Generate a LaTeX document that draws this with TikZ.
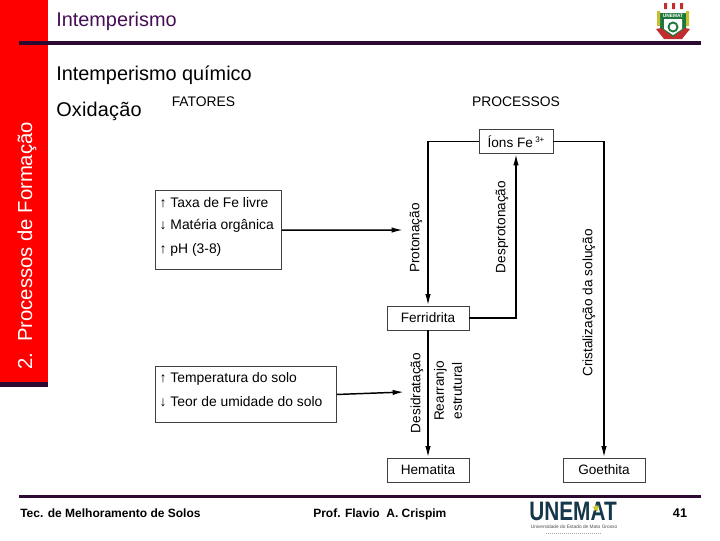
\documentclass[tikz,border=0pt]{standalone}
\usepackage{fontspec}
\setmainfont{Liberation Sans}
\usetikzlibrary{arrows.meta,positioning,shapes.geometric}
\definecolor{barcolor}{RGB}{255,0,0}
\definecolor{rulecolor}{RGB}{45,10,50}
\definecolor{titlecolor}{RGB}{70,15,85}
\definecolor{logocolor}{RGB}{20,55,75}
\definecolor{crestgreen}{RGB}{30,120,60}
\definecolor{crestred}{RGB}{195,45,45}
\tikzset{
  flowln/.style={-{Latex[length=8.5pt,width=4pt]}, line width=1.1pt, black},
  procbox/.style={draw=black!75, line width=0.7pt, minimum width=61.5pt, minimum height=18pt, inner sep=0pt, font=\fontsize{10.2}{12}\selectfont},
  factbox/.style={draw=black!75, line width=0.7pt, anchor=north west, inner sep=0pt},
  sidelbl/.style={rotate=90, font=\fontsize{10.2}{12}\selectfont},
  titlelbl/.style={anchor=west, inner sep=0pt, font=\fontsize{14.9}{18}\selectfont},
  footlbl/.style={anchor=base west, inner sep=0pt, font=\bfseries\fontsize{9}{11}\selectfont},
  headlbl/.style={font=\fontsize{10.4}{12}\selectfont},
}
\begin{document}
\begin{tikzpicture}[x=0.75pt,y=-0.75pt]
  \useasboundingbox (0,0) rectangle (720,540);
  \fill[white] (0,0) rectangle (720,540);
  % side bar and rules
  \fill[barcolor] (0,0) rectangle (48,382);
  \fill[rulecolor] (0,382) rectangle (48,387);
  \fill[rulecolor] (19,41) rectangle (701,45);
  \fill[rulecolor] (19,495) rectangle (701,498);
  \node[white, rotate=90, font=\fontsize{15.2}{18}\selectfont] (sidebar) at (27,246) {2.\ \ Processos de Formação};
  % titles
  \node[titlelbl, titlecolor] (title) at (56,21) {Intemperismo};
  \node[titlelbl] (subtitle) at (56,75) {Intemperismo químico};
  \node[titlelbl] (oxidacao) at (56,111) {\addfontfeature{LetterSpace=1}Oxidação};
  \node[headlbl] (fatores) at (203.5,102) {FATORES};
  \node[headlbl] (processos) at (516,102) {PROCESSOS};
  % factors
  \node[factbox, minimum width=94.5pt, minimum height=59.5pt] (taxa) at (155,190) {};
  \node[factbox, minimum width=135.5pt, minimum height=42pt] (temp) at (155,366) {};
  \node[headlbl, anchor=west] (taxa1) at (155,203) {↑ Taxa de Fe livre};
  \node[headlbl, anchor=west] (taxa2) at (155,226) {↓ Matéria orgânica};
  \node[headlbl, anchor=west] (taxa3) at (155,250) {↑ pH (3-8)};
  \node[headlbl, anchor=west] (temp1) at (155,379) {↑ Temperatura do solo};
  \node[headlbl, anchor=west] (temp2) at (155,402) {↓ Teor de umidade do solo};
  % processes
  \node[procbox, minimum width=55.5pt] (ions) at (516,141.5) {Íons Fe\,\raisebox{3.5pt}{\fontsize{6}{7}\selectfont 3+}};
  \node[procbox] (ferridrita) at (428,318) {Ferridrita};
  \node[procbox] (hematita) at (428,470) {Hematita};
  \node[procbox] (goethita) at (604,470) {Goethita};
  \coordinate (taxaend) at (403,230);
  \coordinate (tempend) at (404,392);
  \draw[flowln] (taxa.east) -- (taxaend);
  \draw[flowln] (temp.east) -- (tempend);
  \draw[flowln] (ions.west) -| (ferridrita.north);
  \draw[flowln] (ferridrita.east) -| (ions.south);
  \draw[flowln] (ions.east) -| (goethita.north);
  \draw[flowln] (ferridrita.south) -- (hematita.north);
  \node[sidelbl] (proton) at (416,238) {Protonação};
  \node[sidelbl] (desproton) at (502,227) {Desprotonação};
  \node[sidelbl] (cristal) at (589,303) {Cristalização da solução};
  \node[sidelbl] (desidra) at (417,393) {Desidratação};
  \node[sidelbl, align=center, font=\fontsize{10.2}{13.5}\selectfont] (rearranjo) at (448,391) {Rearranjo\\estrutural};
  % footer
  \node[footlbl] (curso) at (20,517.5) {Tec. de Melhoramento de Solos};
  \node[footlbl] (prof) at (313,517.5) {Prof. Flavio\ \ A. Crispim};
  \node[footlbl, anchor=base, font=\bfseries\fontsize{9.5}{11}\selectfont] (pagina) at (680,517.5) {41};
  % logo
  \node[logocolor, font=\bfseries\fontsize{20}{21}\selectfont, inner sep=0pt, transform shape, xscale=0.78] (unemat) at (573,511.5) {UNEMAT};
  \node[star, star points=5, star point ratio=2.4, fill=yellow!80!black, inner sep=0pt, minimum size=6pt] (logostar) at (596,508) {};
  \node[black!70, font=\fontsize{3.6}{4}\selectfont, inner sep=0pt] (uni) at (574,527) {Universidade do Estado de Mato Grosso};
  \draw[black!35, line width=0.5pt, densely dotted] (546,533) -- (601,533);
  % crest
  \fill[crestgreen] (660,13) -- (686,13) -- (686,30) -- (673,38) -- (660,30) -- cycle;
  \fill[white] (664,19) -- (682,19) -- (682,29) -- (673,35) -- (664,29) -- cycle;
  \draw[crestgreen, line width=1.4pt] (673,27) circle (4.5);
  \fill[crestred] (656,29) -- (661,28) -- (673,37) -- (685,28) -- (690,29) -- (682,39) -- (664,39) -- cycle;
  \fill[crestred] (664,3) rectangle (667,9) (672,3) rectangle (675,9) (680,3) rectangle (683,9);
  \fill[yellow!75!black] (657,11) -- (660,11) -- (660,26) -- (657,26) -- cycle (686,11) -- (689,11) -- (689,26) -- (686,26) -- cycle;
  \node[white, font=\bfseries\fontsize{3.6}{4}\selectfont, inner sep=0pt] (crest) at (673,15.5) {UNEMAT};
\end{tikzpicture}
\end{document}
